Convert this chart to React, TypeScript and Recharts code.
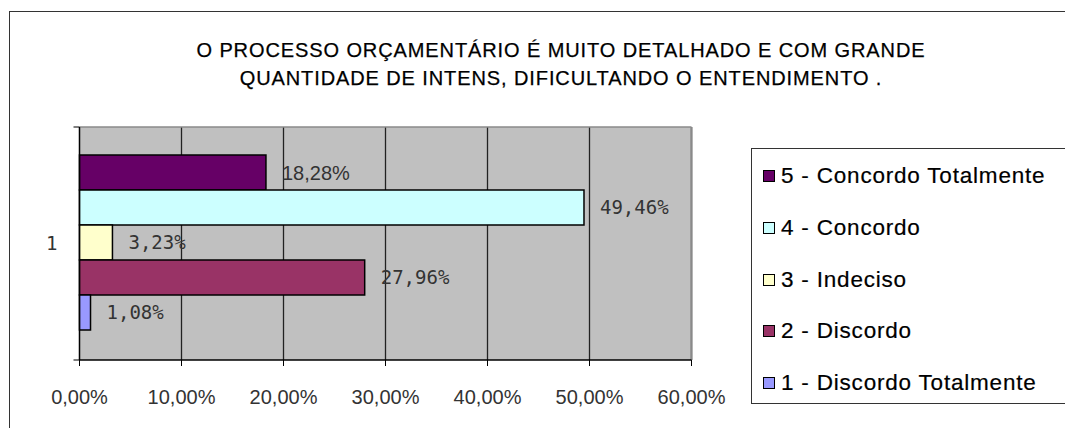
import React from 'react';
import * as RC from 'recharts';
import { BarChart, Bar, XAxis, YAxis, CartesianGrid, LabelList, Legend } from 'recharts';

const categories = ['1'];
const seriesNames = [
  '5 - Concordo Totalmente',
  '4 - Concordo',
  '3 - Indeciso',
  '2 - Discordo',
  '1 - Discordo Totalmente',
];
const seriesKeys = ['s5', 's4', 's3', 's2', 's1'];
const seriesValues = [[18.28], [49.46], [3.23], [27.96], [1.08]];
const seriesColors = ['#660066', '#ccffff', '#ffffcc', '#993366', '#9999ff'];
const xTicks = [0, 10, 20, 30, 40, 50, 60];

const titleLines = [
  'O PROCESSO ORÇAMENTÁRIO É MUITO DETALHADO E COM GRANDE',
  'QUANTIDADE DE INTENS, DIFICULTANDO O ENTENDIMENTO .',
];

const data = categories.map((c, i) => {
  const row: Record<string, string | number> = { name: c };
  seriesKeys.forEach((k, s) => {
    row[k] = seriesValues[s][i];
  });
  return row;
});

const sans = '"Liberation Sans", Arial, sans-serif';
const mono = '"DejaVu Sans Mono", monospace';

const fmtPct = (v: number) => `${Number(v).toFixed(2).replace('.', ',')}%`;

// grey frame on top/right of the plot and the two y-axis tick marks
function PlotFrame() {
  const usePlotArea = (RC as any).usePlotArea;
  const area = usePlotArea ? usePlotArea() : null;
  if (!area) return null;
  const { x, y, width, height } = area;
  return (
    <g>
      <line x1={x} y1={y} x2={x + width} y2={y} stroke="#8a8a8a" strokeWidth={1.5} />
      <line x1={x + width} y1={y} x2={x + width} y2={y + height} stroke="#8a8a8a" strokeWidth={2} />
      <line x1={x - 6} y1={y} x2={x} y2={y} stroke="#000" />
      <line x1={x - 6} y1={y + height} x2={x} y2={y + height} stroke="#000" />
    </g>
  );
}

const LegendBox = () => (
  <div
    style={{
      width: 318,
      height: 256,
      border: '1px solid #333',
      background: '#fff',
      boxSizing: 'border-box',
      fontFamily: sans,
      fontSize: 22.5,
      letterSpacing: 0.8,
      color: '#000',
      WebkitTextStroke: '0.2px #000',
      position: 'relative',
    }}
  >
    {seriesNames.map((name, i) => (
      <div
        key={name}
        style={{
          position: 'absolute',
          left: 11,
          top: 27 + i * 51.8 - 14,
          height: 28,
          display: 'flex',
          alignItems: 'center',
          whiteSpace: 'nowrap',
        }}
      >
        <span
          style={{
            width: 12,
            height: 12,
            background: seriesColors[i],
            border: '1.5px solid #000',
            boxSizing: 'border-box',
            marginRight: 6,
            display: 'inline-block',
          }}
        />
        {name}
      </div>
    ))}
  </div>
);

export default function App() {
  return (
    <div style={{ position: 'relative', width: 1073, height: 436, margin: -8, background: '#fff', overflow: 'hidden' }}>
      {/* chart border */}
      <div
        style={{
          position: 'absolute',
          left: 9,
          top: 11,
          width: 1200,
          height: 600,
          borderLeft: '1px solid #333',
          borderTop: '1px solid #333',
        }}
      />
      <div style={{ position: 'absolute', left: 0, top: 29, width: 1, height: 33, background: '#000' }} />

      {/* title */}
      <div
        style={{
          position: 'absolute',
          left: 161,
          top: 36,
          width: 800,
          textAlign: 'center',
          fontFamily: sans,
          fontSize: 20,
          letterSpacing: 0.9,
          lineHeight: '28px',
          color: '#000',
          WebkitTextStroke: '0.25px #000',
        }}
      >
        {titleLines.map((t) => (
          <div key={t}>{t}</div>
        ))}
      </div>

      <div style={{ position: 'absolute', left: 0, top: 0 }}>
        <BarChart
          width={1073}
          height={436}
          data={data}
          layout="vertical"
          margin={{ top: 127, right: 381.5, bottom: 0, left: 0 }}
          barCategoryGap={28}
          barGap={0}
        >
          <CartesianGrid horizontal={false} stroke="#222" strokeWidth={1.3} fill="#c0c0c0" fillOpacity={1} />
          <XAxis
            type="number"
            domain={[0, 60]}
            ticks={xTicks}
            interval={0}
            tickFormatter={fmtPct}
            height={76}
            axisLine={{ stroke: '#000', strokeWidth: 1.3 }}
            tickLine={{ stroke: '#000' }}
            tickSize={6}
            tickMargin={24}
            tick={{ fill: '#333', fontSize: 20, fontFamily: sans }}
          />
          <YAxis
            type="category"
            dataKey="name"
            width={79.5}
            axisLine={{ stroke: '#000', strokeWidth: 1.3 }}
            tickLine={false}
            tickMargin={16}
            tick={{ fill: '#333', fontSize: 19, fontFamily: mono }}
          />
          {seriesKeys.map((k, i) => (
            <Bar
              key={k}
              dataKey={k}
              name={seriesNames[i]}
              fill={seriesColors[i]}
              stroke="#000"
              strokeWidth={1.5}
              isAnimationActive={false}
            >
              <LabelList
                dataKey={k}
                position="right"
                offset={16}
                formatter={fmtPct}
                fill="#333"
                fontSize={i === 0 ? 20 : 19}
                fontFamily={i === 0 ? sans : mono}
              />
            </Bar>
          ))}
          <Legend
            layout="vertical"
            align="center"
            verticalAlign="middle"
            content={LegendBox}
            wrapperStyle={{ left: 751, top: 148, width: 318, height: 256 }}
          />
          <PlotFrame />
        </BarChart>
      </div>
    </div>
  );
}
